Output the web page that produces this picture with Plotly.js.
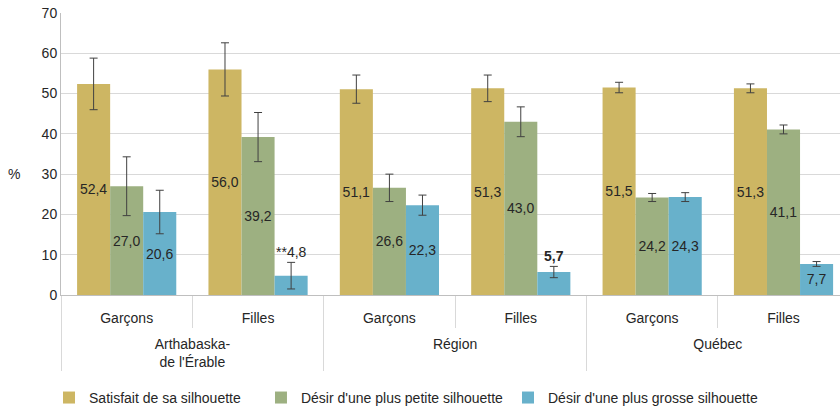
<!DOCTYPE html>
<html>
<head>
<meta charset="utf-8">
<script src="https://cdn.plot.ly/plotly-3.0.1.min.js"></script>
<style>html,body{margin:0;padding:0;background:#fff;}#chart{width:840px;height:409px;}</style>
</head>
<body>
<div id="chart"></div>
<script>
// ---- data ----
const regions = [" <br>Arthabaska-<br>de l'Érable", " <br>Arthabaska-<br>de l'Érable", " <br>Région", " <br>Région", " <br>Québec", " <br>Québec"];
const sexes = ["Garçons", "Filles", "Garçons", "Filles", "Garçons", "Filles"];
const seriesNames = ["Satisfait de sa silhouette", "Désir d'une plus petite silhouette", "Désir d'une plus grosse silhouette"];

const satisfait = [52.4, 56.0, 51.1, 51.3, 51.5, 51.3];
const satisfaitErr = [6.4, 6.6, 3.5, 3.3, 1.3, 1.1];
const satisfaitLabels = ["52,4", "56,0", "51,1", "51,3", "51,5", "51,3"];

const petite = [27.0, 39.2, 26.6, 43.0, 24.2, 41.1];
const petiteErr = [7.3, 6.1, 3.4, 3.7, 1.0, 1.1];
const petiteLabels = ["27,0", "39,2", "26,6", "43,0", "24,2", "41,1"];

const grosse = [20.6, 4.8, 22.3, 5.7, 24.3, 7.7];
const grosseErr = [5.4, 3.3, 2.5, 1.4, 1.1, 0.6];
const grosseLabels = ["20,6", "**4,8", "22,3", "<b>5,7</b>", "24,3", "7,7"];
const grosseAbove = [false, true, false, true, false, false]; // label drawn above the error bar

const yTicks = [0, 10, 20, 30, 40, 50, 60, 70];

// ---- style ----
const colors = ["#CDB663", "#9DB081", "#68B1CB"];
const FONT = "Liberation Sans, Arial, sans-serif";
const txtColor = "#262626";
const gridC = "#D9D9D9";
const BARGAP = 0.245;
const barW = (1 - BARGAP) / 3;

function mk(name, vals, errs, labels, color, legendId) {
  return {
    type: "bar",
    name: name,
    legend: legendId,
    x: [regions, sexes],
    y: vals,
    marker: {color: color, line: {width: 0}},
    error_y: {type: "data", array: errs, visible: true, color: "#404040", thickness: 1, width: 4},
    text: labels,
    textposition: "inside",
    textangle: 0,
    insidetextanchor: "middle",
    constraintext: "none",
    cliponaxis: false,
    textfont: {family: FONT, size: 14, color: txtColor},
    hoverinfo: "skip"
  };
}

const data = [
  mk(seriesNames[0], satisfait, satisfaitErr, satisfaitLabels, colors[0], "legend"),
  mk(seriesNames[1], petite, petiteErr, petiteLabels, colors[1], "legend2"),
  mk(seriesNames[2], grosse, grosseErr, grosseLabels.map((t, i) => grosseAbove[i] ? "" : t), colors[2], "legend3")
];

function leg(x) {
  return {orientation: "h", x: x, xanchor: "left", y: -0.365, yanchor: "middle",
          font: {family: FONT, size: 14, color: txtColor}, bgcolor: "rgba(0,0,0,0)"};
}

const annotations = [
  {text: "%", xref: "paper", yref: "paper", x: -0.06, y: 30/70, xanchor: "center", yanchor: "middle",
   showarrow: false, font: {family: FONT, size: 14, color: txtColor}}
];
grosse.forEach((v, i) => {
  if (grosseAbove[i]) {
    annotations.push({
      text: grosseLabels[i], xref: "x", yref: "y",
      x: i + barW, y: v + grosseErr[i], xanchor: "center", yanchor: "bottom",
      showarrow: false, font: {family: FONT, size: 14, color: txtColor}
    });
  }
});

const layout = {
  width: 840, height: 409,
  margin: {l: 61, r: 0, t: 13, b: 114, autoexpand: false},
  paper_bgcolor: "#fff", plot_bgcolor: "#fff",
  font: {family: FONT, size: 14, color: txtColor},
  barmode: "group",
  bargap: BARGAP,
  bargroupgap: 0,
  showlegend: true,
  legend: leg(-0.0154),
  legend2: leg(0.2567),
  legend3: leg(0.5738),
  xaxis: {
    type: "multicategory",
    automargin: false,
    range: [-0.5, 5.43],
    showline: true, linecolor: "#BFBFBF", linewidth: 1,
    ticks: "outside", ticklen: 32, tickcolor: gridC, tickwidth: 1,
    tickson: "boundaries",
    ticklabelstandoff: 10,
    showdividers: true, dividercolor: gridC, dividerwidth: 1,
    tickfont: {family: FONT, size: 14, color: txtColor},
    showgrid: false, zeroline: false
  },
  yaxis: {
    automargin: false,
    range: [0, 70], tickvals: yTicks, ticktext: yTicks.map(String),
    showgrid: true, gridcolor: gridC, gridwidth: 1,
    showline: true, linecolor: "#BFBFBF", linewidth: 1,
    zeroline: false, ticks: "",
    tickfont: {family: FONT, size: 14, color: txtColor}
  },
  annotations: annotations
};

Plotly.newPlot("chart", data, layout, {displayModeBar: false, staticPlot: true});
</script>
</body>
</html>
